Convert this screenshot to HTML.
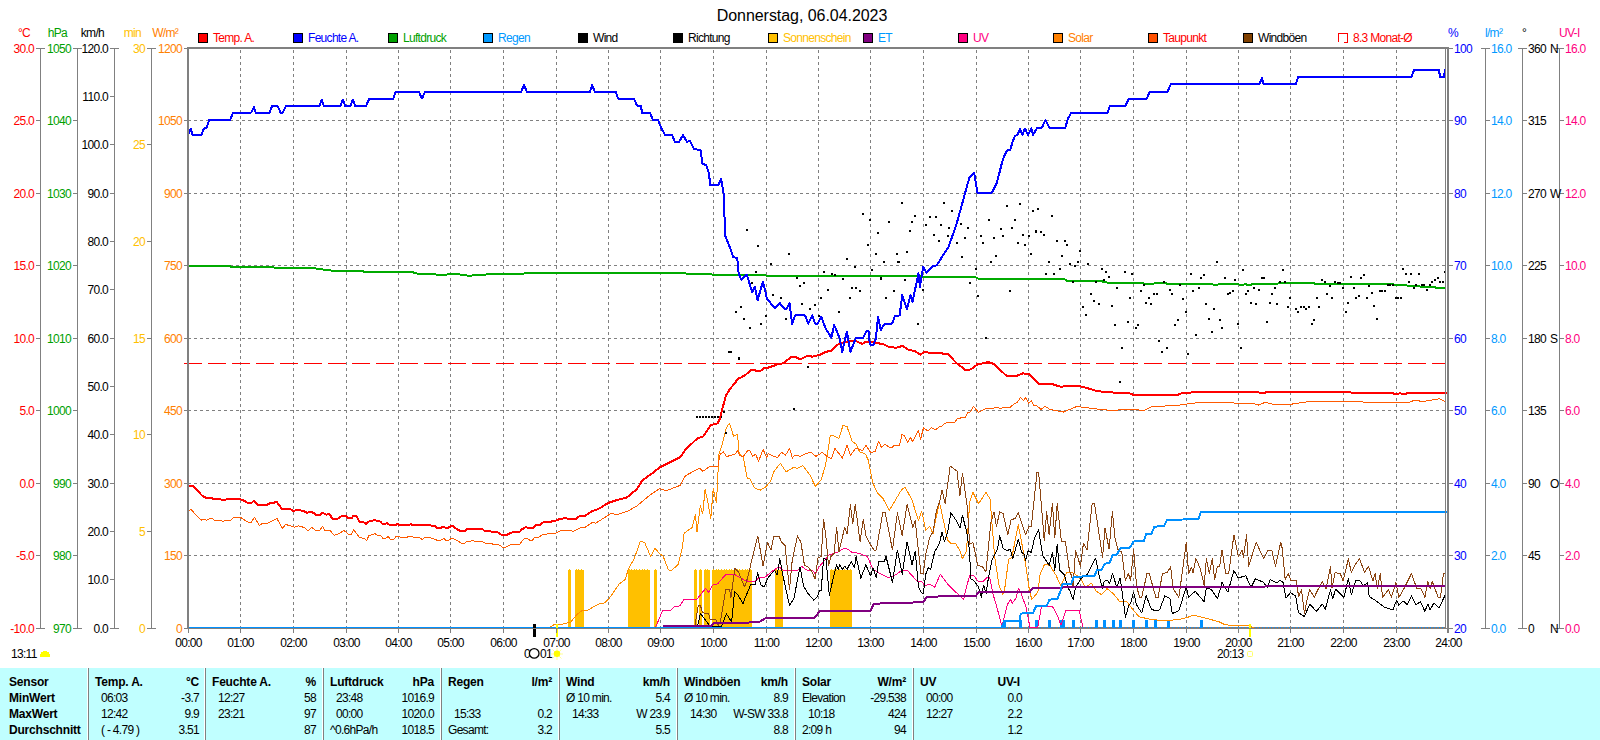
<!DOCTYPE html>
<html><head><meta charset="utf-8"><title>Wetter 06.04.2023</title>
<style>html,body{margin:0;padding:0;background:#fff;width:1600px;height:740px;overflow:hidden;position:relative}
svg text{font-family:"Liberation Sans",sans-serif;letter-spacing:-0.7px} svg text.b{letter-spacing:-0.2px} svg text.t{letter-spacing:-0.05px}</style></head>
<body><svg width="1600" height="740" viewBox="0 0 1600 740" style="position:absolute;left:0;top:0" font-family='"Liberation Sans", sans-serif'><rect width="1600" height="740" fill="#fff"/><g stroke="#808080" stroke-width="1" stroke-dasharray="3,3" shape-rendering="crispEdges"><line x1="188" y1="120.5" x2="1445" y2="120.5" /><line x1="188" y1="193.5" x2="1445" y2="193.5" /><line x1="188" y1="265.5" x2="1445" y2="265.5" /><line x1="188" y1="338.5" x2="1445" y2="338.5" /><line x1="188" y1="410.5" x2="1445" y2="410.5" /><line x1="188" y1="483.5" x2="1445" y2="483.5" /><line x1="188" y1="555.5" x2="1445" y2="555.5" /><line x1="240.5" y1="50" x2="240.5" y2="632" /><line x1="293.5" y1="50" x2="293.5" y2="632" /><line x1="346.5" y1="50" x2="346.5" y2="632" /><line x1="398.5" y1="50" x2="398.5" y2="632" /><line x1="450.5" y1="50" x2="450.5" y2="632" /><line x1="503.5" y1="50" x2="503.5" y2="632" /><line x1="556.5" y1="50" x2="556.5" y2="632" /><line x1="608.5" y1="50" x2="608.5" y2="632" /><line x1="660.5" y1="50" x2="660.5" y2="632" /><line x1="713.5" y1="50" x2="713.5" y2="632" /><line x1="766.5" y1="50" x2="766.5" y2="632" /><line x1="818.5" y1="50" x2="818.5" y2="632" /><line x1="870.5" y1="50" x2="870.5" y2="632" /><line x1="923.5" y1="50" x2="923.5" y2="632" /><line x1="976.5" y1="50" x2="976.5" y2="632" /><line x1="1028.5" y1="50" x2="1028.5" y2="632" /><line x1="1080.5" y1="50" x2="1080.5" y2="632" /><line x1="1133.5" y1="50" x2="1133.5" y2="632" /><line x1="1186.5" y1="50" x2="1186.5" y2="632" /><line x1="1238.5" y1="50" x2="1238.5" y2="632" /><line x1="1290.5" y1="50" x2="1290.5" y2="632" /><line x1="1343.5" y1="50" x2="1343.5" y2="632" /><line x1="1396.5" y1="50" x2="1396.5" y2="632" /></g><g><g fill="#FFC000" shape-rendering="crispEdges"><rect x="568" y="570" width="3" height="57" /><rect x="575" y="570" width="9" height="57" /><rect x="628" y="570" width="22" height="57" /><rect x="654" y="570" width="3" height="57" /><rect x="694" y="570" width="3" height="57" /><rect x="699" y="570" width="3" height="57" /><rect x="704" y="570" width="6" height="57" /><rect x="712" y="570" width="40" height="57" /><rect x="775" y="570" width="8" height="57" /><rect x="830" y="570" width="22" height="57" /><rect x="569" y="569" width="1" height="1"/><rect x="576" y="569" width="1" height="1"/><rect x="578" y="569" width="1" height="1"/><rect x="581" y="569" width="1" height="1"/><rect x="629" y="569" width="1" height="1"/><rect x="631" y="569" width="1" height="1"/><rect x="634" y="569" width="1" height="1"/><rect x="636" y="569" width="1" height="1"/><rect x="639" y="569" width="1" height="1"/><rect x="642" y="569" width="1" height="1"/><rect x="644" y="569" width="1" height="1"/><rect x="647" y="569" width="1" height="1"/><rect x="655" y="569" width="1" height="1"/><rect x="695" y="569" width="1" height="1"/><rect x="700" y="569" width="1" height="1"/><rect x="705" y="569" width="1" height="1"/><rect x="707" y="569" width="1" height="1"/><rect x="713" y="569" width="1" height="1"/><rect x="716" y="569" width="1" height="1"/><rect x="718" y="569" width="1" height="1"/><rect x="721" y="569" width="1" height="1"/><rect x="724" y="569" width="1" height="1"/><rect x="726" y="569" width="1" height="1"/><rect x="729" y="569" width="1" height="1"/><rect x="731" y="569" width="1" height="1"/><rect x="734" y="569" width="1" height="1"/><rect x="737" y="569" width="1" height="1"/><rect x="739" y="569" width="1" height="1"/><rect x="742" y="569" width="1" height="1"/><rect x="745" y="569" width="1" height="1"/><rect x="747" y="569" width="1" height="1"/><rect x="750" y="569" width="1" height="1"/><rect x="776" y="569" width="1" height="1"/><rect x="778" y="569" width="1" height="1"/><rect x="781" y="569" width="1" height="1"/><rect x="831" y="569" width="1" height="1"/><rect x="834" y="569" width="1" height="1"/><rect x="836" y="569" width="1" height="1"/><rect x="839" y="569" width="1" height="1"/><rect x="842" y="569" width="1" height="1"/><rect x="844" y="569" width="1" height="1"/><rect x="847" y="569" width="1" height="1"/><rect x="850" y="569" width="1" height="1"/></g><line x1="184" y1="363.5" x2="1446" y2="363.5" stroke="#FF0000" stroke-width="1" stroke-dasharray="18,6" shape-rendering="crispEdges"/><rect x="1003" y="627" width="443" height="1" fill="#8A7A70" shape-rendering="crispEdges"/><g fill="#0090FF" shape-rendering="crispEdges"><rect x="1004" y="627" width="1" height="1"/><rect x="1007" y="627" width="1" height="1"/><rect x="1010" y="627" width="1" height="1"/><rect x="1013" y="627" width="1" height="1"/><rect x="1016" y="627" width="1" height="1"/><rect x="1019" y="627" width="1" height="1"/><rect x="1022" y="627" width="1" height="1"/><rect x="1025" y="627" width="1" height="1"/><rect x="1028" y="627" width="1" height="1"/><rect x="1031" y="627" width="1" height="1"/><rect x="1034" y="627" width="1" height="1"/><rect x="1037" y="627" width="1" height="1"/><rect x="1040" y="627" width="1" height="1"/><rect x="1043" y="627" width="1" height="1"/><rect x="1046" y="627" width="1" height="1"/><rect x="1049" y="627" width="1" height="1"/><rect x="1052" y="627" width="1" height="1"/><rect x="1055" y="627" width="1" height="1"/><rect x="1058" y="627" width="1" height="1"/><rect x="1061" y="627" width="1" height="1"/><rect x="1064" y="627" width="1" height="1"/><rect x="1067" y="627" width="1" height="1"/><rect x="1070" y="627" width="1" height="1"/><rect x="1073" y="627" width="1" height="1"/><rect x="1076" y="627" width="1" height="1"/><rect x="1079" y="627" width="1" height="1"/><rect x="1082" y="627" width="1" height="1"/><rect x="1085" y="627" width="1" height="1"/><rect x="1088" y="627" width="1" height="1"/><rect x="1091" y="627" width="1" height="1"/><rect x="1094" y="627" width="1" height="1"/><rect x="1097" y="627" width="1" height="1"/><rect x="1100" y="627" width="1" height="1"/><rect x="1103" y="627" width="1" height="1"/><rect x="1106" y="627" width="1" height="1"/><rect x="1109" y="627" width="1" height="1"/><rect x="1112" y="627" width="1" height="1"/><rect x="1115" y="627" width="1" height="1"/><rect x="1118" y="627" width="1" height="1"/><rect x="1121" y="627" width="1" height="1"/><rect x="1124" y="627" width="1" height="1"/><rect x="1127" y="627" width="1" height="1"/><rect x="1130" y="627" width="1" height="1"/><rect x="1133" y="627" width="1" height="1"/><rect x="1136" y="627" width="1" height="1"/><rect x="1139" y="627" width="1" height="1"/><rect x="1142" y="627" width="1" height="1"/><rect x="1145" y="627" width="1" height="1"/><rect x="1148" y="627" width="1" height="1"/><rect x="1151" y="627" width="1" height="1"/><rect x="1154" y="627" width="1" height="1"/><rect x="1157" y="627" width="1" height="1"/><rect x="1160" y="627" width="1" height="1"/><rect x="1163" y="627" width="1" height="1"/><rect x="1166" y="627" width="1" height="1"/><rect x="1169" y="627" width="1" height="1"/><rect x="1172" y="627" width="1" height="1"/><rect x="1175" y="627" width="1" height="1"/><rect x="1178" y="627" width="1" height="1"/><rect x="1181" y="627" width="1" height="1"/><rect x="1184" y="627" width="1" height="1"/><rect x="1187" y="627" width="1" height="1"/><rect x="1190" y="627" width="1" height="1"/><rect x="1193" y="627" width="1" height="1"/><rect x="1196" y="627" width="1" height="1"/><rect x="1199" y="627" width="1" height="1"/><rect x="1202" y="627" width="1" height="1"/><rect x="1205" y="627" width="1" height="1"/><rect x="1208" y="627" width="1" height="1"/><rect x="1211" y="627" width="1" height="1"/><rect x="1214" y="627" width="1" height="1"/><rect x="1217" y="627" width="1" height="1"/><rect x="1220" y="627" width="1" height="1"/><rect x="1223" y="627" width="1" height="1"/><rect x="1226" y="627" width="1" height="1"/><rect x="1229" y="627" width="1" height="1"/><rect x="1232" y="627" width="1" height="1"/><rect x="1235" y="627" width="1" height="1"/><rect x="1238" y="627" width="1" height="1"/><rect x="1241" y="627" width="1" height="1"/><rect x="1244" y="627" width="1" height="1"/><rect x="1247" y="627" width="1" height="1"/><rect x="1250" y="627" width="1" height="1"/><rect x="1253" y="627" width="1" height="1"/><rect x="1256" y="627" width="1" height="1"/><rect x="1259" y="627" width="1" height="1"/><rect x="1262" y="627" width="1" height="1"/><rect x="1265" y="627" width="1" height="1"/><rect x="1268" y="627" width="1" height="1"/><rect x="1271" y="627" width="1" height="1"/><rect x="1274" y="627" width="1" height="1"/><rect x="1277" y="627" width="1" height="1"/><rect x="1280" y="627" width="1" height="1"/><rect x="1283" y="627" width="1" height="1"/><rect x="1286" y="627" width="1" height="1"/><rect x="1289" y="627" width="1" height="1"/><rect x="1292" y="627" width="1" height="1"/><rect x="1295" y="627" width="1" height="1"/><rect x="1298" y="627" width="1" height="1"/><rect x="1301" y="627" width="1" height="1"/><rect x="1304" y="627" width="1" height="1"/><rect x="1307" y="627" width="1" height="1"/><rect x="1310" y="627" width="1" height="1"/><rect x="1313" y="627" width="1" height="1"/><rect x="1316" y="627" width="1" height="1"/><rect x="1319" y="627" width="1" height="1"/><rect x="1322" y="627" width="1" height="1"/><rect x="1325" y="627" width="1" height="1"/><rect x="1328" y="627" width="1" height="1"/><rect x="1331" y="627" width="1" height="1"/><rect x="1334" y="627" width="1" height="1"/><rect x="1337" y="627" width="1" height="1"/><rect x="1340" y="627" width="1" height="1"/><rect x="1343" y="627" width="1" height="1"/><rect x="1346" y="627" width="1" height="1"/><rect x="1349" y="627" width="1" height="1"/><rect x="1352" y="627" width="1" height="1"/><rect x="1355" y="627" width="1" height="1"/><rect x="1358" y="627" width="1" height="1"/><rect x="1361" y="627" width="1" height="1"/><rect x="1364" y="627" width="1" height="1"/><rect x="1367" y="627" width="1" height="1"/><rect x="1370" y="627" width="1" height="1"/><rect x="1373" y="627" width="1" height="1"/><rect x="1376" y="627" width="1" height="1"/><rect x="1379" y="627" width="1" height="1"/><rect x="1382" y="627" width="1" height="1"/><rect x="1385" y="627" width="1" height="1"/><rect x="1388" y="627" width="1" height="1"/><rect x="1391" y="627" width="1" height="1"/><rect x="1394" y="627" width="1" height="1"/><rect x="1397" y="627" width="1" height="1"/><rect x="1400" y="627" width="1" height="1"/><rect x="1403" y="627" width="1" height="1"/><rect x="1406" y="627" width="1" height="1"/><rect x="1409" y="627" width="1" height="1"/><rect x="1412" y="627" width="1" height="1"/><rect x="1415" y="627" width="1" height="1"/><rect x="1418" y="627" width="1" height="1"/><rect x="1421" y="627" width="1" height="1"/><rect x="1424" y="627" width="1" height="1"/><rect x="1427" y="627" width="1" height="1"/><rect x="1430" y="627" width="1" height="1"/><rect x="1433" y="627" width="1" height="1"/><rect x="1436" y="627" width="1" height="1"/><rect x="1439" y="627" width="1" height="1"/><rect x="1442" y="627" width="1" height="1"/><rect x="1445" y="627" width="1" height="1"/></g><g fill="#0090FF" shape-rendering="crispEdges"><rect x="1003" y="620" width="3" height="8" /><rect x="1019" y="620" width="3" height="8" /><rect x="1035" y="620" width="3" height="8" /><rect x="1048" y="620" width="3" height="8" /><rect x="1060" y="620" width="3" height="8" /><rect x="1062" y="620" width="3" height="8" /><rect x="1072" y="620" width="3" height="8" /><rect x="1095" y="620" width="3" height="8" /><rect x="1103" y="620" width="3" height="8" /><rect x="1112" y="620" width="3" height="8" /><rect x="1119" y="620" width="3" height="8" /><rect x="1132" y="620" width="3" height="8" /><rect x="1145" y="620" width="3" height="8" /><rect x="1154" y="620" width="3" height="8" /><rect x="1167" y="620" width="3" height="8" /><rect x="1200" y="620" width="3" height="8" /></g><path d="M655.8,626.8 L662.5,610.7 L671.4,610.0 L674.4,606.2 L679.6,606.0 L684.0,599.6 L696.7,599.6 L705.6,588.4 L708.6,592.1 L713.0,584.7 L717.5,584.0 L725.7,574.6 L735.0,574.7 L745.5,580.8 L754.3,581.7 L759.6,577.3 L764.9,577.3 L771.0,572.1 L778.9,566.8 L783.3,570.3 L797.4,570.3 L801.8,566.4 L807.1,570.3 L813.1,571.0 L815.5,574.3 L819.6,566.2 L829.3,554.8 L839.0,551.6 L843.9,548.3 L848.0,549.2 L852.0,552.4 L858.5,553.2 L867.4,556.5 L873.1,569.4 L881.2,574.3 L887.7,577.5 L894.1,575.9 L902.2,570.2 L907.9,571.0 L916.8,580.8 L921.7,581.6 L924.9,585.6 L929.8,584.0 L934.7,587.2 L940.3,574.3 L947.6,584.0 L955.7,592.1 L960.0,595.9 L963.6,599.6 L966.1,588.6 L969.7,575.3 L973.4,575.3 L978.2,581.3 L983.1,581.3 L987.4,577.1 L989.8,577.7 L992.8,593.5 L996.5,605.7 L1001.9,626.3 L1007.4,604.4 L1010.5,599.6 L1012.3,603.2 L1015.9,598.4 L1018.4,588.6 L1020.8,592.3 L1026.3,608.1 L1029.9,627.3 L1037.8,627.3 L1041.5,606.3 L1052.4,606.3 L1057.3,615.4 L1060.9,625.1 L1065.8,610.5 L1079.1,610.5 L1082.8,626.3" fill="none" stroke="#FF0080" stroke-width="1" stroke-linejoin="round" stroke-linecap="square" shape-rendering="crispEdges" /><path d="M550.2,626.8 L553.9,624.8 L562.8,624.1 L571.0,621.9 L576.2,615.2 L582.2,610.4 L588.1,610.0 L595.6,605.5 L600.8,603.3 L604.5,603.0 L609.0,598.8 L619.3,583.9 L625.3,579.5 L628.3,569.1 L634.2,558.7 L640.2,541.6 L644.6,542.3 L650.6,556.4 L655.0,548.3 L659.5,553.5 L663.2,556.4 L668.4,569.8 L671.4,570.6 L678.1,564.6 L682.5,546.8 L684.1,533.3 L687.3,530.9 L692.2,527.6 L695.4,514.7 L697.0,531.7 L700.3,505.8 L702.7,513.9 L705.1,489.6 L707.6,500.9 L710.8,518.7 L713.2,488.7 L714.8,496.0 L716.5,502.5 L718.9,454.7 L722.1,445.0 L726.2,428.0 L729.4,423.1 L733.5,436.1 L737.5,434.4 L739.2,453.9 L743.2,457.1 L747.3,478.2 L749.9,478.7 L754.5,487.9 L760.3,490.2 L766.0,486.8 L770.6,481.0 L774.1,471.3 L780.4,463.2 L786.1,471.9 L793.6,467.3 L797.6,468.4 L802.8,465.5 L809.7,474.7 L815.4,486.2 L821.1,479.9 L825.7,464.4 L830.3,435.7 L833.8,435.7 L839.0,438.5 L843.0,425.3 L847.0,426.5 L852.2,441.4 L856.2,444.3 L859.6,451.8 L865.4,454.1 L868.2,459.8 L872.8,482.8 L877.4,493.1 L883.2,498.9 L889.3,510.3 L901.4,490.0 L905.0,487.0 L912.0,500.0 L918.5,520.8 L921.7,511.1 L925.7,530.5 L929.8,526.5 L933.0,533.8 L934.7,524.0 L939.5,502.2 L947.6,540.2 L950.9,543.5 L955.7,543.5 L960.0,550.8 L962.4,558.9 L966.5,550.8 L969.7,502.1 L973.0,492.4 L978.6,503.8 L985.9,492.4 L990.0,498.9 L994.7,557.0 L998.9,585.0 L1002.6,594.1 L1004.4,591.1 L1008.6,559.5 L1011.9,557.2 L1018.3,524.8 L1023.2,550.8 L1025.7,564.3 L1028.7,586.2 L1031.7,599.6 L1037.8,592.3 L1040.2,574.0 L1044.5,564.3 L1050.0,565.5 L1056.0,575.3 L1060.9,586.2 L1066.4,572.8 L1071.9,572.2 L1076.7,575.3 L1081.6,580.1 L1085.2,587.4 L1091.3,583.2 L1096.2,591.1 L1101.6,594.7 L1107.1,588.6 L1113.2,593.5 L1120.0,602.0 L1126.9,601.7 L1131.3,607.7 L1138.8,616.6 L1147.7,618.8 L1159.6,620.3 L1177.4,619.9 L1187.8,617.3 L1193.0,615.1 L1205.6,618.1 L1219.0,621.8 L1225.0,624.8 L1233.9,625.5 L1248.7,625.5 L1253.2,627.7" fill="none" stroke="#FF8C00" stroke-width="1" stroke-linejoin="round" stroke-linecap="square" shape-rendering="crispEdges" /><path d="M188.4,511.1 L191.1,509.3 L195.1,514.1 L201.2,520.1 L203.9,519.2 L206.6,520.1 L210.0,518.4 L212.0,518.4 L214.7,520.4 L220.8,520.4 L222.8,521.5 L225.5,520.4 L230.3,520.4 L233.6,517.4 L240.4,517.4 L248.5,522.4 L251.2,522.2 L254.6,517.4 L259.3,525.5 L262.7,523.2 L267.4,523.2 L276.9,518.4 L282.3,528.2 L285.7,524.5 L290.4,525.8 L294.5,527.2 L298.5,525.8 L304.6,527.6 L307.3,530.3 L309.3,530.0 L311.4,527.2 L316.1,530.9 L319.5,530.9 L322.6,526.2 L324.9,530.3 L330.3,530.7 L334.3,535.4 L339.1,533.6 L343.8,530.3 L348.5,534.3 L351.2,534.3 L353.6,529.6 L359.3,537.3 L364.1,538.4 L366.8,540.4 L368.8,535.7 L374.9,533.6 L377.6,535.3 L381.0,535.7 L383.0,538.4 L385.0,538.4 L388.4,536.5 L390.4,539.5 L393.8,539.5 L395.8,536.5 L399.2,536.8 L400.5,537.4 L406.6,537.4 L408.6,536.5 L412.0,536.5 L414.1,537.4 L419.5,537.7 L422.2,539.5 L424.9,537.4 L431.6,538.1 L433.6,538.8 L437.7,540.5 L440.4,540.5 L443.8,538.4 L445.8,540.4 L448.5,540.4 L451.2,538.4 L453.2,538.4 L462.0,543.5 L464.1,543.5 L466.8,541.5 L472.8,540.8 L476.9,541.5 L482.3,541.8 L485.7,543.2 L491.8,543.5 L493.1,544.5 L498.5,544.5 L502.6,547.2 L505.3,547.2 L511.4,544.5 L519.5,544.5 L524.2,538.5 L527.6,538.5 L530.3,540.5 L532.3,540.5 L534.3,537.4 L538.4,537.2 L543.1,534.5 L548.5,533.8 L556.0,533.1 L558.6,531.4 L563.4,530.4 L570.8,530.7 L573.5,531.4 L579.6,528.0 L585.0,527.3 L592.6,522.2 L595.8,523.2 L611.0,513.5 L617.4,514.6 L627.2,511.4 L636.9,505.9 L649.9,495.1 L659.6,488.6 L666.1,490.8 L680.1,485.4 L685.5,475.7 L699.6,468.1 L702.8,471.4 L710.4,466.0 L718.0,466.0 L720.1,454.1 L723.4,451.9 L726.6,456.6 L735.0,454.1 L737.9,450.6 L739.6,455.2 L743.0,456.9 L747.6,450.6 L749.9,450.6 L752.8,456.4 L755.7,454.1 L758.5,461.5 L763.1,449.5 L766.6,457.5 L768.3,453.5 L772.3,455.8 L777.5,457.5 L781.5,452.3 L785.5,455.2 L789.6,448.3 L792.4,458.1 L794.7,455.2 L800.5,456.4 L805.6,453.5 L810.8,452.3 L816.0,456.4 L822.3,452.3 L826.9,456.4 L831.5,458.6 L834.9,448.3 L842.4,458.1 L847.0,445.4 L850.4,455.2 L855.6,448.3 L862.5,450.6 L865.9,445.4 L870.5,452.3 L875.1,451.8 L878.6,441.4 L881.4,447.2 L884.9,444.3 L890.0,447.5 L892.0,447.5 L894.5,445.3 L899.5,445.3 L902.0,434.5 L904.5,435.5 L907.5,442.5 L910.5,437.5 L912.5,441.5 L918.5,430.5 L920.5,439.5 L923.5,427.5 L927.0,430.5 L928.5,430.5 L931.5,427.5 L934.5,429.5 L936.0,429.5 L939.5,426.5 L941.5,426.5 L944.5,423.3 L948.0,422.5 L954.5,422.5 L957.5,418.5 L965.5,417.2 L968.0,412.5 L970.5,411.8 L973.5,406.3 L978.5,412.5 L981.5,410.5 L986.5,408.5 L993.0,408.5 L995.0,407.5 L997.5,407.5 L1000.0,408.5 L1004.0,407.5 L1010.0,407.5 L1013.5,404.3 L1017.5,402.0 L1020.5,397.5 L1023.5,400.5 L1025.5,397.5 L1028.5,403.0 L1031.5,400.5 L1033.5,405.5 L1036.5,405.5 L1041.0,409.5 L1045.0,406.3 L1050.0,409.5 L1063.4,412.1 L1076.9,406.4 L1093.8,408.7 L1110.7,410.4 L1130.0,409.4 L1144.1,410.4 L1151.1,406.9 L1179.2,405.1 L1200.3,402.3 L1253.0,403.4 L1258.2,405.1 L1265.3,402.3 L1274.1,404.4 L1289.9,404.4 L1313.0,401.0 L1341.0,401.0 L1369.0,402.3 L1409.7,402.3 L1415.0,399.9 L1422.0,401.6 L1439.6,398.8 L1444.9,401.6" fill="none" stroke="#FF5A00" stroke-width="1" stroke-linejoin="round" stroke-linecap="square" shape-rendering="crispEdges" /><path d="M695.2,624.1 L698.2,605.5 L700.4,605.5 L702.6,612.9 L708.6,613.4 L710.1,619.6 L716.0,619.9 L718.2,625.9 L720.5,621.1 L725.7,589.9 L729.4,589.1 L730.9,597.3 L735.0,568.5 L738.5,572.1 L742.0,580.8 L744.7,587.0 L748.2,575.6 L752.6,556.2 L757.8,536.0 L763.1,565.9 L767.5,542.2 L771.0,550.1 L773.7,536.0 L778.9,536.0 L781.6,542.2 L785.1,545.7 L789.5,589.6 L792.1,561.5 L797.4,536.0 L800.9,542.2 L804.4,565.0 L807.9,566.8 L812.3,572.1 L815.0,579.1 L818.0,558.0 L821.2,556.5 L823.6,519.2 L826.1,538.6 L828.5,565.4 L830.9,556.5 L834.2,553.2 L836.6,527.3 L839.0,551.6 L844.7,527.3 L847.1,533.8 L850.4,504.6 L852.8,524.0 L855.2,504.6 L860.1,541.9 L863.3,519.2 L865.8,535.4 L869.8,543.5 L873.9,550.0 L876.3,550.0 L882.8,512.7 L885.2,512.7 L892.5,550.0 L897.4,512.7 L902.2,535.4 L907.1,504.6 L912.8,527.3 L915.2,520.8 L920.9,573.5 L923.3,573.5 L925.7,554.8 L929.8,537.0 L933.0,532.1 L936.3,511.1 L939.5,502.2 L942.0,490.0 L945.1,503.3 L950.2,466.1 L957.0,471.2 L960.0,495.7 L962.4,473.0 L967.3,507.0 L969.7,544.3 L973.0,542.7 L977.8,565.3 L982.7,567.0 L985.9,571.8 L990.8,523.2 L994.0,511.9 L996.5,526.5 L999.7,511.9 L1003.0,513.5 L1007.8,534.6 L1011.1,520.0 L1015.1,518.3 L1018.3,512.7 L1025.6,534.6 L1028.9,526.5 L1031.3,526.5 L1037.0,472.2 L1038.6,472.2 L1044.3,541.0 L1046.7,511.9 L1049.1,534.6 L1052.4,503.8 L1054.8,537.8 L1057.2,503.8 L1061.3,541.0 L1065.3,541.0 L1069.4,570.2 L1071.8,576.7 L1073.1,586.2 L1075.5,550.9 L1078.5,559.5 L1080.4,566.7 L1083.4,543.6 L1087.1,549.7 L1092.1,503.8 L1094.5,503.8 L1102.6,557.2 L1105.0,528.1 L1109.1,549.1 L1112.4,511.9 L1115.0,537.8 L1118.0,549.7 L1121.7,551.9 L1125.4,580.9 L1128.4,573.5 L1130.6,580.9 L1133.6,549.0 L1136.5,585.4 L1139.5,597.3 L1141.7,597.3 L1147.0,573.5 L1149.2,573.5 L1155.9,597.3 L1158.1,597.3 L1162.5,573.5 L1167.0,572.7 L1170.7,566.8 L1173.0,588.4 L1178.9,597.3 L1186.3,542.3 L1188.6,573.5 L1191.5,567.5 L1193.0,572.7 L1196.0,558.6 L1200.4,569.0 L1204.2,585.4 L1206.4,558.6 L1209.4,573.5 L1212.3,558.6 L1214.6,579.4 L1217.5,566.1 L1219.8,566.1 L1222.0,549.7 L1225.7,573.5 L1228.7,573.5 L1233.9,534.9 L1238.3,556.4 L1242.0,550.5 L1243.5,557.1 L1246.5,534.9 L1248.7,566.1 L1256.2,542.3 L1263.6,558.6 L1268.0,550.5 L1271.8,550.5 L1275.5,566.1 L1280.7,542.3 L1282.2,548.2 L1285.2,579.4 L1288.2,573.5 L1291.1,580.9 L1296.3,580.9 L1298.6,596.5 L1301.5,589.8 L1304.5,613.6 L1307.5,597.3 L1309.7,589.8 L1314.2,597.3 L1317.9,589.8 L1322.3,581.7 L1326.1,589.1 L1330.5,566.1 L1332.0,588.4 L1335.0,572.7 L1340.2,573.5 L1343.2,580.9 L1348.4,558.6 L1351.3,572.7 L1354.3,566.1 L1359.5,558.6 L1364.7,572.7 L1368.4,566.1 L1372.9,580.9 L1375.1,573.5 L1377.3,588.4 L1380.3,573.5 L1382.5,597.3 L1388.5,589.8 L1391.4,597.3 L1395.9,582.4 L1398.9,597.3 L1404.1,588.4 L1411.5,573.5 L1416.7,588.4 L1421.2,589.1 L1424.9,597.3 L1427.8,581.7 L1430.1,588.4 L1432.3,581.7 L1438.2,597.3 L1440.5,597.3 L1443.4,573.5 L1444.9,573.5" fill="none" stroke="#8B4513" stroke-width="1" stroke-linejoin="round" stroke-linecap="square" shape-rendering="crispEdges" /><path d="M697.4,626.8 L700.4,613.7 L704.1,618.1 L710.1,626.3 L721.2,626.8 L726.4,613.7 L731.6,621.9 L734.6,591.4 L738.5,595.8 L742.9,603.7 L746.4,594.9 L750.8,584.4 L755.2,584.4 L757.8,572.9 L760.5,584.4 L764.0,587.0 L768.4,577.3 L774.5,570.3 L777.2,574.7 L779.8,558.9 L783.3,577.3 L789.5,605.4 L793.9,598.4 L800.0,566.8 L803.5,586.1 L808.2,593.7 L813.9,600.2 L817.2,597.0 L819.6,590.5 L821.2,590.5 L823.6,558.1 L826.1,559.7 L829.3,595.3 L833.4,577.5 L836.6,564.6 L838.2,569.4 L839.8,564.6 L842.3,569.4 L844.7,566.2 L847.1,569.4 L851.2,561.3 L854.4,567.8 L856.1,556.5 L860.9,578.3 L865.8,564.6 L870.6,575.9 L873.1,567.8 L876.3,577.5 L878.7,561.3 L884.4,561.3 L886.0,556.5 L892.5,582.4 L897.4,550.0 L902.2,574.3 L907.1,541.9 L912.0,564.6 L915.2,551.6 L918.5,587.2 L920.9,592.1 L923.3,593.7 L925.7,574.3 L928.2,567.8 L930.6,569.4 L934.7,551.6 L939.5,543.5 L942.0,532.1 L944.4,541.9 L947.6,532.1 L950.9,512.7 L957.4,522.4 L960.0,528.1 L962.4,515.1 L966.5,531.3 L969.7,550.8 L970.5,578.9 L973.4,580.1 L978.2,586.2 L981.3,597.1 L983.7,585.0 L986.1,593.5 L988.6,576.5 L992.2,559.5 L995.3,553.4 L997.7,548.5 L999.7,535.4 L1003.0,548.3 L1007.0,550.8 L1010.2,549.1 L1012.7,558.9 L1018.3,539.4 L1021.6,552.4 L1024.0,554.0 L1025.6,560.5 L1028.1,550.8 L1031.3,552.4 L1034.6,537.8 L1038.6,529.7 L1042.7,555.6 L1049.1,565.3 L1052.4,552.4 L1054.8,570.2 L1057.2,544.3 L1059.7,570.2 L1064.6,575.3 L1067.6,587.4 L1070.0,591.1 L1073.1,599.6 L1075.5,587.4 L1081.6,577.7 L1087.7,574.0 L1091.9,565.5 L1095.6,558.2 L1098.6,572.8 L1102.2,588.6 L1104.1,581.3 L1107.7,580.1 L1109.5,583.8 L1112.6,573.4 L1116.8,587.4 L1120.2,578.0 L1121.7,588.4 L1125.4,617.3 L1129.1,604.7 L1130.6,603.2 L1133.6,592.1 L1136.5,604.7 L1141.7,612.9 L1146.2,595.8 L1151.4,609.2 L1155.1,610.6 L1159.6,609.9 L1164.8,595.8 L1170.0,598.8 L1172.2,613.6 L1178.9,610.6 L1186.3,586.9 L1188.6,597.3 L1195.2,591.3 L1204.2,601.7 L1206.4,587.6 L1211.6,589.8 L1217.5,598.8 L1222.0,582.4 L1227.9,592.1 L1233.9,570.5 L1238.3,578.0 L1245.8,575.7 L1251.0,587.6 L1255.4,578.7 L1263.6,582.4 L1267.3,587.6 L1270.3,579.4 L1277.0,583.2 L1280.0,580.2 L1283.0,582.4 L1285.9,598.0 L1290.4,592.8 L1295.6,595.8 L1298.6,612.9 L1304.5,616.6 L1309.7,604.0 L1316.4,611.4 L1322.3,604.0 L1325.3,609.2 L1330.5,589.8 L1332.7,598.8 L1335.7,589.1 L1339.4,592.8 L1343.9,597.3 L1348.4,578.7 L1351.3,595.0 L1355.8,580.2 L1360.2,580.9 L1363.2,586.1 L1367.7,582.4 L1369.2,596.5 L1375.1,600.2 L1384.0,606.9 L1392.9,609.9 L1396.6,600.2 L1398.9,605.4 L1403.3,601.0 L1407.0,604.7 L1411.5,595.8 L1416.0,604.7 L1420.4,601.7 L1424.9,611.4 L1427.8,604.0 L1430.1,609.9 L1433.8,603.2 L1439.0,607.7 L1444.9,595.8" fill="none" stroke="#000000" stroke-width="1" stroke-linejoin="round" stroke-linecap="square" shape-rendering="crispEdges" /><path d="M664.0,625.9 L711.5,625.9 L714.5,622.9 L758.7,622.4 L766.4,617.7 L814.7,617.7 L819.3,611.5 L870.6,610.9 L873.7,603.7 L923.5,602.2 L926.6,596.6 L975.5,596.2 L978.9,592.2 L1029.6,592.2 L1033.0,587.8 L1135.0,586.8 L1445.0,586.1" fill="none" stroke="#800080" stroke-width="2" stroke-linejoin="round" stroke-linecap="square" shape-rendering="crispEdges" /><path d="M188.0,628.0 L1001.3,628.0 L1004.4,620.9 L1019.6,620.9 L1020.8,613.6 L1033.0,612.9 L1036.0,606.3 L1046.9,605.7 L1049.4,599.6 L1057.3,599.0 L1060.9,589.8 L1062.1,584.4 L1071.2,584.0 L1073.7,577.1 L1086.4,576.2 L1094.3,576.2 L1096.8,570.4 L1101.6,569.8 L1104.7,563.7 L1109.5,563.1 L1112.6,555.2 L1116.8,554.6 L1120.9,547.5 L1129.9,547.5 L1133.6,541.5 L1144.0,540.8 L1146.2,534.1 L1151.4,533.7 L1154.4,526.7 L1164.0,525.9 L1167.0,520.0 L1198.5,519.0 L1200.8,512.0 L1446.0,512.0" fill="none" stroke="#0090FF" stroke-width="2" stroke-linejoin="round" stroke-linecap="square" shape-rendering="crispEdges" /><path d="M188.0,266.1 L230.0,266.1 L231.5,267.0 L272.0,267.0 L275.0,267.9 L314.0,267.9 L317.0,268.8 L332.0,270.6 L359.0,270.6 L368.0,272.4 L413.0,272.4 L417.5,273.6 L434.0,273.6 L437.0,274.8 L446.0,274.8 L449.0,273.6 L464.0,274.8 L468.5,276.0 L473.0,275.4 L491.0,274.2 L524.0,273.6 L527.0,272.7 L665.0,272.7 L725.0,275.0 L781.6,275.7 L880.0,276.0 L920.0,276.0 L925.0,277.0 L975.0,277.0 L978.0,278.6 L1063.3,278.7 L1067.7,281.1 L1100.4,281.1 L1110.8,283.2 L1142.1,283.2 L1148.0,284.1 L1162.9,282.6 L1168.8,284.1 L1211.9,283.8 L1213.6,284.9 L1217.6,284.9 L1219.2,283.8 L1237.9,283.8 L1239.6,284.9 L1243.6,284.9 L1245.3,283.8 L1246.9,284.9 L1250.9,284.9 L1252.6,283.8 L1277.7,283.8 L1279.4,282.8 L1313.5,282.8 L1315.1,283.8 L1393.1,283.8 L1394.8,284.9 L1406.1,284.9 L1407.7,286.1 L1434.6,287.0 L1436.2,287.9 L1445.1,287.9" fill="none" stroke="#00AA00" stroke-width="2" stroke-linejoin="round" stroke-linecap="square" shape-rendering="crispEdges" /><g fill="#000" shape-rendering="crispEdges"><rect x="746" y="229" width="2" height="2"/><rect x="757" y="245" width="2" height="2"/><rect x="788" y="253" width="2" height="2"/><rect x="770" y="263" width="2" height="2"/><rect x="755" y="271" width="2" height="2"/><rect x="796" y="277" width="2" height="2"/><rect x="803" y="282" width="2" height="2"/><rect x="799" y="285" width="2" height="2"/><rect x="823" y="271" width="2" height="2"/><rect x="831" y="273" width="2" height="2"/><rect x="834" y="274" width="2" height="2"/><rect x="842" y="278" width="2" height="2"/><rect x="846" y="258" width="2" height="2"/><rect x="854" y="266" width="2" height="2"/><rect x="862" y="213" width="2" height="2"/><rect x="869" y="219" width="2" height="2"/><rect x="877" y="232" width="2" height="2"/><rect x="867" y="244" width="2" height="2"/><rect x="875" y="253" width="2" height="2"/><rect x="883" y="261" width="2" height="2"/><rect x="888" y="221" width="2" height="2"/><rect x="896" y="253" width="2" height="2"/><rect x="898" y="261" width="2" height="2"/><rect x="871" y="269" width="2" height="2"/><rect x="880" y="277" width="2" height="2"/><rect x="851" y="287" width="2" height="2"/><rect x="855" y="287" width="2" height="2"/><rect x="859" y="290" width="2" height="2"/><rect x="849" y="297" width="2" height="2"/><rect x="838" y="311" width="2" height="2"/><rect x="827" y="289" width="2" height="2"/><rect x="820" y="297" width="2" height="2"/><rect x="814" y="304" width="2" height="2"/><rect x="809" y="308" width="2" height="2"/><rect x="801" y="303" width="2" height="2"/><rect x="818" y="315" width="2" height="2"/><rect x="780" y="297" width="2" height="2"/><rect x="785" y="318" width="2" height="2"/><rect x="772" y="294" width="2" height="2"/><rect x="765" y="315" width="2" height="2"/><rect x="760" y="323" width="2" height="2"/><rect x="751" y="282" width="2" height="2"/><rect x="740" y="306" width="2" height="2"/><rect x="743" y="318" width="2" height="2"/><rect x="735" y="311" width="2" height="2"/><rect x="749" y="327" width="2" height="2"/><rect x="729" y="351" width="2" height="2"/><rect x="738" y="357" width="2" height="2"/><rect x="728" y="351" width="2" height="2"/><rect x="730" y="351" width="2" height="2"/><rect x="738" y="358" width="2" height="2"/><rect x="807" y="366" width="2" height="2"/><rect x="793" y="408" width="2" height="2"/><rect x="723" y="411" width="2" height="2"/><rect x="725" y="432" width="2" height="2"/><rect x="901" y="202" width="2" height="2"/><rect x="888" y="221" width="2" height="2"/><rect x="911" y="221" width="2" height="2"/><rect x="914" y="215" width="2" height="2"/><rect x="909" y="230" width="2" height="2"/><rect x="896" y="253" width="2" height="2"/><rect x="906" y="251" width="2" height="2"/><rect x="883" y="261" width="2" height="2"/><rect x="897" y="261" width="2" height="2"/><rect x="880" y="278" width="2" height="2"/><rect x="904" y="279" width="2" height="2"/><rect x="893" y="290" width="2" height="2"/><rect x="885" y="297" width="2" height="2"/><rect x="917" y="323" width="2" height="2"/><rect x="922" y="289" width="2" height="2"/><rect x="921" y="271" width="2" height="2"/><rect x="929" y="216" width="2" height="2"/><rect x="935" y="216" width="2" height="2"/><rect x="925" y="224" width="2" height="2"/><rect x="940" y="224" width="2" height="2"/><rect x="943" y="202" width="2" height="2"/><rect x="951" y="210" width="2" height="2"/><rect x="948" y="227" width="2" height="2"/><rect x="933" y="234" width="2" height="2"/><rect x="938" y="240" width="2" height="2"/><rect x="947" y="235" width="2" height="2"/><rect x="960" y="223" width="2" height="2"/><rect x="956" y="242" width="2" height="2"/><rect x="964" y="237" width="2" height="2"/><rect x="967" y="227" width="2" height="2"/><rect x="961" y="256" width="2" height="2"/><rect x="975" y="268" width="2" height="2"/><rect x="969" y="282" width="2" height="2"/><rect x="977" y="295" width="2" height="2"/><rect x="980" y="235" width="2" height="2"/><rect x="982" y="242" width="2" height="2"/><rect x="988" y="219" width="2" height="2"/><rect x="993" y="237" width="2" height="2"/><rect x="995" y="255" width="2" height="2"/><rect x="990" y="261" width="2" height="2"/><rect x="985" y="337" width="2" height="2"/><rect x="1000" y="228" width="2" height="2"/><rect x="1002" y="235" width="2" height="2"/><rect x="1006" y="205" width="2" height="2"/><rect x="1011" y="227" width="2" height="2"/><rect x="1014" y="219" width="2" height="2"/><rect x="1019" y="203" width="2" height="2"/><rect x="1009" y="290" width="2" height="2"/><rect x="1022" y="234" width="2" height="2"/><rect x="1028" y="235" width="2" height="2"/><rect x="1032" y="210" width="2" height="2"/><rect x="1037" y="208" width="2" height="2"/><rect x="1035" y="230" width="2" height="2"/><rect x="1017" y="242" width="2" height="2"/><rect x="1024" y="244" width="2" height="2"/><rect x="1030" y="253" width="2" height="2"/><rect x="1037" y="208" width="2" height="2"/><rect x="1051" y="215" width="2" height="2"/><rect x="1035" y="231" width="2" height="2"/><rect x="1040" y="231" width="2" height="2"/><rect x="1043" y="234" width="2" height="2"/><rect x="1056" y="240" width="2" height="2"/><rect x="1064" y="240" width="2" height="2"/><rect x="1066" y="244" width="2" height="2"/><rect x="1079" y="250" width="2" height="2"/><rect x="1048" y="261" width="2" height="2"/><rect x="1061" y="255" width="2" height="2"/><rect x="1069" y="263" width="2" height="2"/><rect x="1074" y="265" width="2" height="2"/><rect x="1077" y="261" width="2" height="2"/><rect x="1087" y="263" width="2" height="2"/><rect x="1045" y="273" width="2" height="2"/><rect x="1053" y="273" width="2" height="2"/><rect x="1059" y="268" width="2" height="2"/><rect x="1072" y="281" width="2" height="2"/><rect x="1101" y="268" width="2" height="2"/><rect x="1105" y="271" width="2" height="2"/><rect x="1108" y="276" width="2" height="2"/><rect x="1103" y="279" width="2" height="2"/><rect x="1095" y="281" width="2" height="2"/><rect x="1124" y="271" width="2" height="2"/><rect x="1131" y="273" width="2" height="2"/><rect x="1116" y="287" width="2" height="2"/><rect x="1090" y="293" width="2" height="2"/><rect x="1093" y="300" width="2" height="2"/><rect x="1098" y="303" width="2" height="2"/><rect x="1082" y="306" width="2" height="2"/><rect x="1085" y="314" width="2" height="2"/><rect x="1111" y="305" width="2" height="2"/><rect x="1114" y="324" width="2" height="2"/><rect x="1129" y="297" width="2" height="2"/><rect x="1127" y="321" width="2" height="2"/><rect x="1135" y="327" width="2" height="2"/><rect x="1137" y="324" width="2" height="2"/><rect x="1121" y="347" width="2" height="2"/><rect x="1140" y="290" width="2" height="2"/><rect x="1143" y="284" width="2" height="2"/><rect x="1145" y="302" width="2" height="2"/><rect x="1148" y="297" width="2" height="2"/><rect x="1150" y="303" width="2" height="2"/><rect x="1153" y="293" width="2" height="2"/><rect x="1156" y="293" width="2" height="2"/><rect x="1158" y="340" width="2" height="2"/><rect x="1161" y="351" width="2" height="2"/><rect x="1166" y="347" width="2" height="2"/><rect x="1119" y="381" width="2" height="2"/><rect x="1163" y="281" width="2" height="2"/><rect x="1169" y="289" width="2" height="2"/><rect x="1171" y="293" width="2" height="2"/><rect x="1179" y="284" width="2" height="2"/><rect x="1182" y="298" width="2" height="2"/><rect x="1174" y="324" width="2" height="2"/><rect x="1177" y="319" width="2" height="2"/><rect x="1185" y="311" width="2" height="2"/><rect x="1187" y="353" width="2" height="2"/><rect x="1190" y="273" width="2" height="2"/><rect x="1192" y="290" width="2" height="2"/><rect x="1190" y="273" width="2" height="2"/><rect x="1192" y="290" width="2" height="2"/><rect x="1195" y="334" width="2" height="2"/><rect x="1198" y="287" width="2" height="2"/><rect x="1200" y="277" width="2" height="2"/><rect x="1203" y="274" width="2" height="2"/><rect x="1205" y="303" width="2" height="2"/><rect x="1208" y="318" width="2" height="2"/><rect x="1211" y="331" width="2" height="2"/><rect x="1213" y="308" width="2" height="2"/><rect x="1216" y="261" width="2" height="2"/><rect x="1219" y="319" width="2" height="2"/><rect x="1221" y="327" width="2" height="2"/><rect x="1224" y="277" width="2" height="2"/><rect x="1227" y="293" width="2" height="2"/><rect x="1229" y="292" width="2" height="2"/><rect x="1232" y="290" width="2" height="2"/><rect x="1234" y="279" width="2" height="2"/><rect x="1237" y="323" width="2" height="2"/><rect x="1240" y="347" width="2" height="2"/><rect x="1242" y="269" width="2" height="2"/><rect x="1245" y="293" width="2" height="2"/><rect x="1247" y="290" width="2" height="2"/><rect x="1250" y="302" width="2" height="2"/><rect x="1253" y="287" width="2" height="2"/><rect x="1255" y="303" width="2" height="2"/><rect x="1258" y="289" width="2" height="2"/><rect x="1261" y="277" width="2" height="2"/><rect x="1263" y="277" width="2" height="2"/><rect x="1266" y="321" width="2" height="2"/><rect x="1269" y="302" width="2" height="2"/><rect x="1271" y="293" width="2" height="2"/><rect x="1274" y="287" width="2" height="2"/><rect x="1276" y="303" width="2" height="2"/><rect x="1279" y="281" width="2" height="2"/><rect x="1282" y="269" width="2" height="2"/><rect x="1284" y="281" width="2" height="2"/><rect x="1287" y="306" width="2" height="2"/><rect x="1289" y="297" width="2" height="2"/><rect x="1295" y="308" width="2" height="2"/><rect x="1297" y="311" width="2" height="2"/><rect x="1300" y="306" width="2" height="2"/><rect x="1303" y="306" width="2" height="2"/><rect x="1305" y="308" width="2" height="2"/><rect x="1308" y="306" width="2" height="2"/><rect x="1311" y="323" width="2" height="2"/><rect x="1313" y="319" width="2" height="2"/><rect x="1316" y="297" width="2" height="2"/><rect x="1318" y="306" width="2" height="2"/><rect x="1321" y="279" width="2" height="2"/><rect x="1324" y="281" width="2" height="2"/><rect x="1326" y="293" width="2" height="2"/><rect x="1329" y="285" width="2" height="2"/><rect x="1331" y="297" width="2" height="2"/><rect x="1334" y="281" width="2" height="2"/><rect x="1337" y="282" width="2" height="2"/><rect x="1339" y="282" width="2" height="2"/><rect x="1342" y="287" width="2" height="2"/><rect x="1345" y="311" width="2" height="2"/><rect x="1347" y="302" width="2" height="2"/><rect x="1350" y="276" width="2" height="2"/><rect x="1353" y="287" width="2" height="2"/><rect x="1355" y="297" width="2" height="2"/><rect x="1358" y="295" width="2" height="2"/><rect x="1360" y="277" width="2" height="2"/><rect x="1363" y="274" width="2" height="2"/><rect x="1366" y="297" width="2" height="2"/><rect x="1368" y="285" width="2" height="2"/><rect x="1371" y="292" width="2" height="2"/><rect x="1373" y="305" width="2" height="2"/><rect x="1376" y="318" width="2" height="2"/><rect x="1379" y="290" width="2" height="2"/><rect x="1381" y="290" width="2" height="2"/><rect x="1384" y="290" width="2" height="2"/><rect x="1387" y="284" width="2" height="2"/><rect x="1389" y="284" width="2" height="2"/><rect x="1392" y="284" width="2" height="2"/><rect x="1395" y="297" width="2" height="2"/><rect x="1397" y="297" width="2" height="2"/><rect x="1400" y="297" width="2" height="2"/><rect x="1402" y="268" width="2" height="2"/><rect x="1405" y="273" width="2" height="2"/><rect x="1408" y="281" width="2" height="2"/><rect x="1410" y="273" width="2" height="2"/><rect x="1413" y="287" width="2" height="2"/><rect x="1415" y="284" width="2" height="2"/><rect x="1418" y="273" width="2" height="2"/><rect x="1421" y="284" width="2" height="2"/><rect x="1423" y="284" width="2" height="2"/><rect x="1426" y="289" width="2" height="2"/><rect x="1429" y="284" width="2" height="2"/><rect x="1431" y="281" width="2" height="2"/><rect x="1434" y="279" width="2" height="2"/><rect x="1437" y="277" width="2" height="2"/><rect x="1439" y="281" width="2" height="2"/><rect x="1442" y="281" width="2" height="2"/><rect x="1444" y="271" width="2" height="2"/></g><g fill="#000" shape-rendering="crispEdges"><rect x="696" y="416" width="2" height="2"/><rect x="699" y="416" width="2" height="2"/><rect x="702" y="416" width="2" height="2"/><rect x="705" y="416" width="2" height="2"/><rect x="708" y="416" width="2" height="2"/><rect x="711" y="416" width="2" height="2"/><rect x="714" y="416" width="2" height="2"/><rect x="717" y="416" width="2" height="2"/><rect x="720" y="416" width="2" height="2"/></g><path d="M188.4,486.1 L193.1,486.1 L195.8,489.0 L201.9,495.4 L205.9,497.8 L212.0,498.2 L213.4,498.9 L220.1,499.2 L222.2,499.9 L225.5,499.9 L226.9,498.9 L239.1,498.9 L243.1,500.1 L247.2,502.6 L251.9,502.6 L253.9,500.5 L258.6,505.5 L262.7,505.3 L267.4,504.6 L270.8,503.0 L276.9,502.2 L281.6,508.6 L289.7,508.9 L293.1,510.7 L298.5,510.0 L303.9,511.1 L306.6,512.7 L312.0,512.0 L316.1,514.7 L320.1,514.7 L322.8,512.7 L326.2,514.7 L329.6,514.0 L332.3,518.8 L337.7,518.8 L341.8,516.1 L346.5,516.1 L347.8,517.8 L351.9,517.8 L353.2,515.7 L356.6,516.1 L359.3,521.5 L363.4,522.2 L366.1,523.9 L368.8,521.5 L374.2,520.1 L380.3,521.5 L382.3,523.8 L385.0,523.8 L387.0,523.0 L389.7,525.0 L395.8,525.0 L397.2,523.9 L399.2,525.0 L409.3,525.0 L410.7,523.9 L412.0,525.0 L429.6,525.0 L431.6,525.9 L435.0,526.2 L437.0,528.0 L440.4,528.0 L442.4,526.9 L445.1,527.6 L448.5,527.6 L451.2,525.9 L453.2,526.2 L456.6,528.9 L460.0,530.9 L464.7,530.9 L467.4,528.9 L482.3,528.9 L484.3,530.7 L489.7,530.9 L491.8,531.8 L497.2,532.0 L501.2,534.7 L507.3,534.7 L510.7,532.7 L520.1,531.6 L521.5,529.6 L525.5,527.3 L528.9,527.7 L533.0,528.0 L535.7,524.9 L540.4,524.6 L543.8,521.9 L551.2,521.9 L552.6,520.8 L556.6,520.5 L560.0,518.9 L565.4,518.2 L569.5,519.2 L575.5,519.2 L578.9,516.5 L585.0,515.8 L591.5,511.4 L598.0,509.2 L608.8,502.7 L617.4,499.9 L627.2,497.3 L636.9,489.1 L642.3,480.4 L652.0,473.5 L659.6,467.5 L673.6,460.5 L680.1,457.3 L685.5,449.7 L697.4,438.3 L703.4,436.3 L710.8,425.1 L717.5,423.3 L719.7,419.2 L725.7,396.1 L730.1,388.7 L735.3,382.8 L737.6,379.0 L741.3,377.3 L745.0,375.3 L750.9,370.1 L754.6,369.8 L756.1,370.9 L760.6,370.9 L764.3,367.9 L767.3,367.9 L774.0,365.7 L777.7,363.9 L782.9,363.4 L790.8,357.3 L796.2,357.3 L800.3,359.3 L807.0,356.0 L812.4,356.6 L820.5,354.6 L825.9,351.9 L831.4,350.5 L836.8,345.1 L844.9,341.8 L855.7,341.1 L862.4,343.8 L865.8,341.8 L874.6,342.4 L884.1,344.5 L888.1,346.5 L896.2,347.8 L903.0,345.8 L907.0,349.2 L915.1,351.2 L920.5,354.6 L924.6,351.9 L932.7,353.2 L940.0,353.2 L948.2,354.2 L956.3,362.9 L966.0,370.4 L970.9,369.4 L977.4,364.5 L988.8,362.0 L993.6,363.9 L1006.6,375.9 L1016.4,375.9 L1022.9,373.3 L1029.4,374.3 L1034.2,379.2 L1039.5,384.3 L1052.8,384.3 L1060.3,386.7 L1073.7,385.8 L1082.6,386.7 L1097.5,391.2 L1121.2,393.2 L1130.2,393.5 L1133.1,394.7 L1177.8,394.7 L1182.2,393.2 L1200.3,391.8 L1249.5,391.8 L1263.5,392.8 L1270.5,391.8 L1385.0,392.8 L1392.0,392.8 L1396.0,394.6 L1400.0,393.0 L1404.0,394.6 L1408.0,392.8 L1446.0,392.8" fill="none" stroke="#FF0000" stroke-width="2" stroke-linejoin="round" stroke-linecap="square" shape-rendering="crispEdges" /><path d="M188.1,134.4 L190.9,128.9 L192.5,134.9 L201.3,134.9 L203.7,128.9 L206.8,127.4 L209.1,120.1 L230.1,120.1 L233.2,112.6 L251.1,112.6 L253.9,107.2 L255.7,112.6 L269.7,112.6 L272.1,105.9 L277.5,105.9 L280.6,112.6 L282.6,112.6 L286.0,105.9 L319.5,105.9 L321.8,99.7 L323.7,105.9 L340.4,105.9 L342.8,99.7 L345.1,105.9 L350.5,105.9 L352.9,99.7 L355.2,105.9 L366.1,105.9 L369.2,98.9 L393.3,98.9 L395.6,91.9 L419.0,92.0 L422.0,98.6 L425.0,92.0 L521.0,92.0 L524.0,85.0 L527.0,92.0 L590.0,92.0 L592.0,85.0 L595.0,92.0 L616.0,92.0 L618.0,98.6 L634.0,98.6 L637.0,105.6 L641.0,105.6 L642.0,113.0 L650.0,113.0 L653.0,120.0 L658.0,120.0 L661.0,127.4 L665.0,135.0 L672.0,135.0 L675.0,142.0 L679.0,142.0 L683.0,135.0 L687.0,142.0 L690.0,140.8 L694.0,148.9 L700.8,150.3 L702.2,163.8 L706.2,165.1 L708.9,173.2 L710.3,185.4 L718.4,185.4 L721.1,178.6 L723.8,194.9 L725.1,235.4 L730.5,248.9 L733.2,257.0 L737.3,258.4 L738.6,273.2 L741.4,280.0 L746.8,274.6 L752.2,292.2 L754.9,286.8 L757.6,300.3 L763.0,281.4 L767.0,298.9 L775.1,308.4 L780.0,303.2 L784.1,308.6 L786.8,308.6 L789.5,303.0 L792.2,324.2 L794.9,315.4 L805.0,315.4 L808.4,323.5 L812.4,315.4 L815.1,323.5 L817.8,323.5 L821.2,316.8 L825.9,328.9 L831.4,337.7 L834.1,324.9 L839.5,337.7 L842.2,351.9 L846.9,331.6 L850.3,351.9 L855.7,338.4 L863.1,337.7 L866.5,330.9 L868.5,330.9 L869.9,344.5 L873.2,345.1 L875.9,338.4 L878.0,316.8 L880.7,330.3 L884.7,323.5 L892.2,323.5 L894.9,316.1 L899.6,315.4 L902.3,295.1 L907.0,309.3 L910.4,295.1 L912.4,301.9 L918.5,273.5 L919.9,287.0 L923.2,266.8 L926.6,272.8 L932.7,266.1 L936.8,265.4 L940.0,260.0 L944.9,252.5 L948.2,247.7 L956.3,224.9 L964.4,195.7 L969.3,177.9 L974.2,173.0 L977.4,192.5 L992.0,192.5 L996.9,182.7 L1001.4,165.0 L1003.8,156.9 L1007.0,150.4 L1010.3,149.6 L1012.7,141.5 L1015.1,135.8 L1017.6,135.0 L1020.0,128.5 L1022.4,135.0 L1024.9,128.5 L1028.1,135.0 L1031.4,128.5 L1033.0,135.0 L1037.0,128.0 L1041.9,127.7 L1045.5,119.9 L1049.2,127.7 L1065.4,127.7 L1067.8,118.8 L1071.1,113.1 L1107.6,113.1 L1110.0,105.8 L1125.4,105.8 L1128.6,99.0 L1146.5,99.0 L1149.7,92.0 L1167.6,92.0 L1170.8,84.0 L1259.5,84.0 L1261.8,78.0 L1263.7,84.0 L1296.0,84.0 L1298.1,77.0 L1411.3,77.0 L1414.1,70.0 L1438.8,70.0 L1440.2,77.0 L1443.7,77.0 L1445.1,70.3" fill="none" stroke="#0000FF" stroke-width="2" stroke-linejoin="round" stroke-linecap="square" shape-rendering="crispEdges" /><rect x="533" y="624" width="3" height="13" fill="#000"/><rect x="556" y="624" width="2" height="13" fill="#FFFF00"/><rect x="1249" y="624" width="2" height="13" fill="#FFFF00"/></g><g font-family="Liberation Sans, sans-serif"><text x="11" y="658" font-size="12" fill="#000">13:11</text><path d="M43,651h4v1h2v2h1v3h-10v-3h1v-2h2z" fill="#FFFF00" shape-rendering="crispEdges"/><text x="524" y="658" font-size="12" fill="#000">0</text><text x="540" y="658" font-size="12" fill="#000">01</text><circle cx="534.2" cy="653.4" r="4.8" fill="#fff" stroke="#000" stroke-width="1.3"/><g stroke="#FFFF99" stroke-width="1"><line x1="551" y1="654" x2="563" y2="654"/><line x1="557" y1="648" x2="557" y2="660"/><line x1="552.5" y1="649.5" x2="561.5" y2="658.5"/><line x1="561.5" y1="649.5" x2="552.5" y2="658.5"/></g><circle cx="557" cy="653.8" r="3.2" fill="#FFFF00"/><text x="1217" y="658" font-size="12" fill="#000">20:13</text><rect x="1247.5" y="651.5" width="5" height="5" rx="1" fill="none" stroke="#FFFF66" stroke-width="1"/></g><g shape-rendering="crispEdges"><rect x="40" y="48" width="1" height="581" fill="#808080"/><rect x="36" y="48" width="9" height="1" fill="#808080"/><rect x="36" y="628" width="9" height="1" fill="#808080"/><rect x="36" y="120" width="4" height="1" fill="#808080"/><rect x="36" y="193" width="4" height="1" fill="#808080"/><rect x="36" y="265" width="4" height="1" fill="#808080"/><rect x="36" y="338" width="4" height="1" fill="#808080"/><rect x="36" y="410" width="4" height="1" fill="#808080"/><rect x="36" y="483" width="4" height="1" fill="#808080"/><rect x="36" y="555" width="4" height="1" fill="#808080"/><rect x="77" y="48" width="1" height="581" fill="#808080"/><rect x="73" y="48" width="9" height="1" fill="#808080"/><rect x="73" y="628" width="9" height="1" fill="#808080"/><rect x="73" y="120" width="4" height="1" fill="#808080"/><rect x="73" y="193" width="4" height="1" fill="#808080"/><rect x="73" y="265" width="4" height="1" fill="#808080"/><rect x="73" y="338" width="4" height="1" fill="#808080"/><rect x="73" y="410" width="4" height="1" fill="#808080"/><rect x="73" y="483" width="4" height="1" fill="#808080"/><rect x="73" y="555" width="4" height="1" fill="#808080"/><rect x="114" y="48" width="1" height="581" fill="#808080"/><rect x="110" y="48" width="9" height="1" fill="#808080"/><rect x="110" y="628" width="9" height="1" fill="#808080"/><rect x="110" y="96" width="4" height="1" fill="#808080"/><rect x="110" y="144" width="4" height="1" fill="#808080"/><rect x="110" y="193" width="4" height="1" fill="#808080"/><rect x="110" y="241" width="4" height="1" fill="#808080"/><rect x="110" y="289" width="4" height="1" fill="#808080"/><rect x="110" y="338" width="4" height="1" fill="#808080"/><rect x="110" y="386" width="4" height="1" fill="#808080"/><rect x="110" y="434" width="4" height="1" fill="#808080"/><rect x="110" y="483" width="4" height="1" fill="#808080"/><rect x="110" y="531" width="4" height="1" fill="#808080"/><rect x="110" y="579" width="4" height="1" fill="#808080"/><rect x="151" y="48" width="1" height="581" fill="#808080"/><rect x="147" y="48" width="9" height="1" fill="#808080"/><rect x="147" y="628" width="9" height="1" fill="#808080"/><rect x="147" y="144" width="4" height="1" fill="#808080"/><rect x="147" y="241" width="4" height="1" fill="#808080"/><rect x="147" y="338" width="4" height="1" fill="#808080"/><rect x="147" y="434" width="4" height="1" fill="#808080"/><rect x="147" y="531" width="4" height="1" fill="#808080"/><rect x="184" y="48" width="4" height="1" fill="#808080"/><rect x="184" y="120" width="4" height="1" fill="#808080"/><rect x="184" y="193" width="4" height="1" fill="#808080"/><rect x="184" y="265" width="4" height="1" fill="#808080"/><rect x="184" y="338" width="4" height="1" fill="#808080"/><rect x="184" y="410" width="4" height="1" fill="#808080"/><rect x="184" y="483" width="4" height="1" fill="#808080"/><rect x="184" y="555" width="4" height="1" fill="#808080"/><rect x="184" y="628" width="4" height="1" fill="#808080"/><rect x="1449" y="48" width="4" height="1" fill="#808080"/><rect x="1449" y="120" width="4" height="1" fill="#808080"/><rect x="1449" y="193" width="4" height="1" fill="#808080"/><rect x="1449" y="265" width="4" height="1" fill="#808080"/><rect x="1449" y="338" width="4" height="1" fill="#808080"/><rect x="1449" y="410" width="4" height="1" fill="#808080"/><rect x="1449" y="483" width="4" height="1" fill="#808080"/><rect x="1449" y="555" width="4" height="1" fill="#808080"/><rect x="1449" y="628" width="4" height="1" fill="#808080"/><rect x="1485" y="48" width="1" height="581" fill="#808080"/><rect x="1481" y="48" width="9" height="1" fill="#808080"/><rect x="1481" y="628" width="9" height="1" fill="#808080"/><rect x="1486" y="120" width="4" height="1" fill="#808080"/><rect x="1486" y="193" width="4" height="1" fill="#808080"/><rect x="1486" y="265" width="4" height="1" fill="#808080"/><rect x="1486" y="338" width="4" height="1" fill="#808080"/><rect x="1486" y="410" width="4" height="1" fill="#808080"/><rect x="1486" y="483" width="4" height="1" fill="#808080"/><rect x="1486" y="555" width="4" height="1" fill="#808080"/><rect x="1522" y="48" width="1" height="581" fill="#808080"/><rect x="1518" y="48" width="9" height="1" fill="#808080"/><rect x="1518" y="628" width="9" height="1" fill="#808080"/><rect x="1523" y="120" width="4" height="1" fill="#808080"/><rect x="1523" y="193" width="4" height="1" fill="#808080"/><rect x="1523" y="265" width="4" height="1" fill="#808080"/><rect x="1523" y="338" width="4" height="1" fill="#808080"/><rect x="1523" y="410" width="4" height="1" fill="#808080"/><rect x="1523" y="483" width="4" height="1" fill="#808080"/><rect x="1523" y="555" width="4" height="1" fill="#808080"/><rect x="1559" y="48" width="1" height="581" fill="#808080"/><rect x="1555" y="48" width="9" height="1" fill="#808080"/><rect x="1555" y="628" width="9" height="1" fill="#808080"/><rect x="1560" y="120" width="4" height="1" fill="#808080"/><rect x="1560" y="193" width="4" height="1" fill="#808080"/><rect x="1560" y="265" width="4" height="1" fill="#808080"/><rect x="1560" y="338" width="4" height="1" fill="#808080"/><rect x="1560" y="410" width="4" height="1" fill="#808080"/><rect x="1560" y="483" width="4" height="1" fill="#808080"/><rect x="1560" y="555" width="4" height="1" fill="#808080"/><rect x="187" y="47" width="1262" height="2" fill="#808080"/><rect x="187" y="47" width="2" height="582" fill="#808080"/><rect x="188" y="628" width="1" height="5" fill="#808080"/><rect x="1447" y="47" width="2" height="586" fill="#808080"/><rect x="1445" y="48" width="1" height="580" fill="#808080"/><rect x="187" y="628" width="1262" height="1" fill="#808080"/><rect x="240" y="629" width="1" height="4" fill="#808080"/><rect x="293" y="629" width="1" height="4" fill="#808080"/><rect x="346" y="629" width="1" height="4" fill="#808080"/><rect x="398" y="629" width="1" height="4" fill="#808080"/><rect x="450" y="629" width="1" height="4" fill="#808080"/><rect x="503" y="629" width="1" height="4" fill="#808080"/><rect x="556" y="629" width="1" height="4" fill="#808080"/><rect x="608" y="629" width="1" height="4" fill="#808080"/><rect x="660" y="629" width="1" height="4" fill="#808080"/><rect x="713" y="629" width="1" height="4" fill="#808080"/><rect x="766" y="629" width="1" height="4" fill="#808080"/><rect x="818" y="629" width="1" height="4" fill="#808080"/><rect x="870" y="629" width="1" height="4" fill="#808080"/><rect x="923" y="629" width="1" height="4" fill="#808080"/><rect x="976" y="629" width="1" height="4" fill="#808080"/><rect x="1028" y="629" width="1" height="4" fill="#808080"/><rect x="1080" y="629" width="1" height="4" fill="#808080"/><rect x="1133" y="629" width="1" height="4" fill="#808080"/><rect x="1186" y="629" width="1" height="4" fill="#808080"/><rect x="1238" y="629" width="1" height="4" fill="#808080"/><rect x="1290" y="629" width="1" height="4" fill="#808080"/><rect x="1343" y="629" width="1" height="4" fill="#808080"/><rect x="1396" y="629" width="1" height="4" fill="#808080"/></g><rect x="198.5" y="33.5" width="9" height="9" fill="#FF0000" stroke="#000" stroke-width="1"/><rect x="293.5" y="33.5" width="9" height="9" fill="#0000FF" stroke="#000" stroke-width="1"/><rect x="388.5" y="33.5" width="9" height="9" fill="#00A000" stroke="#000" stroke-width="1"/><rect x="483.5" y="33.5" width="9" height="9" fill="#0099FF" stroke="#000" stroke-width="1"/><rect x="578.5" y="33.5" width="9" height="9" fill="#000000" stroke="#000" stroke-width="1"/><rect x="673.5" y="33.5" width="9" height="9" fill="#000000" stroke="#000" stroke-width="1"/><rect x="768.5" y="33.5" width="9" height="9" fill="#FFC000" stroke="#000" stroke-width="1"/><rect x="863.5" y="33.5" width="9" height="9" fill="#800080" stroke="#000" stroke-width="1"/><rect x="958.5" y="33.5" width="9" height="9" fill="#FF0080" stroke="#000" stroke-width="1"/><rect x="1053.5" y="33.5" width="9" height="9" fill="#FF8000" stroke="#000" stroke-width="1"/><rect x="1148.5" y="33.5" width="9" height="9" fill="#FF5000" stroke="#000" stroke-width="1"/><rect x="1243.5" y="33.5" width="9" height="9" fill="#804000" stroke="#000" stroke-width="1"/><path d="M1338.5,42 V33.5 H1347.5 V42.5 H1344" fill="none" stroke="#FF0000" stroke-width="1" shape-rendering="crispEdges"/><g><text x="34" y="52.5" fill="#FF0000" text-anchor="end" font-size="12" font-weight="normal" >30.0</text><text x="34" y="124.5" fill="#FF0000" text-anchor="end" font-size="12" font-weight="normal" >25.0</text><text x="34" y="197.5" fill="#FF0000" text-anchor="end" font-size="12" font-weight="normal" >20.0</text><text x="34" y="269.5" fill="#FF0000" text-anchor="end" font-size="12" font-weight="normal" >15.0</text><text x="34" y="342.5" fill="#FF0000" text-anchor="end" font-size="12" font-weight="normal" >10.0</text><text x="34" y="414.5" fill="#FF0000" text-anchor="end" font-size="12" font-weight="normal" >5.0</text><text x="34" y="487.5" fill="#FF0000" text-anchor="end" font-size="12" font-weight="normal" >0.0</text><text x="34" y="559.5" fill="#FF0000" text-anchor="end" font-size="12" font-weight="normal" >-5.0</text><text x="34" y="632.5" fill="#FF0000" text-anchor="end" font-size="12" font-weight="normal" >-10.0</text><text x="30" y="37" fill="#FF0000" text-anchor="end" font-size="12" font-weight="normal" >°C</text><text x="71" y="52.5" fill="#00A000" text-anchor="end" font-size="12" font-weight="normal" >1050</text><text x="71" y="124.5" fill="#00A000" text-anchor="end" font-size="12" font-weight="normal" >1040</text><text x="71" y="197.5" fill="#00A000" text-anchor="end" font-size="12" font-weight="normal" >1030</text><text x="71" y="269.5" fill="#00A000" text-anchor="end" font-size="12" font-weight="normal" >1020</text><text x="71" y="342.5" fill="#00A000" text-anchor="end" font-size="12" font-weight="normal" >1010</text><text x="71" y="414.5" fill="#00A000" text-anchor="end" font-size="12" font-weight="normal" >1000</text><text x="71" y="487.5" fill="#00A000" text-anchor="end" font-size="12" font-weight="normal" >990</text><text x="71" y="559.5" fill="#00A000" text-anchor="end" font-size="12" font-weight="normal" >980</text><text x="71" y="632.5" fill="#00A000" text-anchor="end" font-size="12" font-weight="normal" >970</text><text x="67" y="37" fill="#00A000" text-anchor="end" font-size="12" font-weight="normal" >hPa</text><text x="108" y="52.5" fill="#000000" text-anchor="end" font-size="12" font-weight="normal" >120.0</text><text x="108" y="100.5" fill="#000000" text-anchor="end" font-size="12" font-weight="normal" >110.0</text><text x="108" y="148.5" fill="#000000" text-anchor="end" font-size="12" font-weight="normal" >100.0</text><text x="108" y="197.5" fill="#000000" text-anchor="end" font-size="12" font-weight="normal" >90.0</text><text x="108" y="245.5" fill="#000000" text-anchor="end" font-size="12" font-weight="normal" >80.0</text><text x="108" y="293.5" fill="#000000" text-anchor="end" font-size="12" font-weight="normal" >70.0</text><text x="108" y="342.5" fill="#000000" text-anchor="end" font-size="12" font-weight="normal" >60.0</text><text x="108" y="390.5" fill="#000000" text-anchor="end" font-size="12" font-weight="normal" >50.0</text><text x="108" y="438.5" fill="#000000" text-anchor="end" font-size="12" font-weight="normal" >40.0</text><text x="108" y="487.5" fill="#000000" text-anchor="end" font-size="12" font-weight="normal" >30.0</text><text x="108" y="535.5" fill="#000000" text-anchor="end" font-size="12" font-weight="normal" >20.0</text><text x="108" y="583.5" fill="#000000" text-anchor="end" font-size="12" font-weight="normal" >10.0</text><text x="108" y="632.5" fill="#000000" text-anchor="end" font-size="12" font-weight="normal" >0.0</text><text x="104" y="37" fill="#000000" text-anchor="end" font-size="12" font-weight="normal" >km/h</text><text x="145" y="52.5" fill="#FFC000" text-anchor="end" font-size="12" font-weight="normal" >30</text><text x="145" y="148.5" fill="#FFC000" text-anchor="end" font-size="12" font-weight="normal" >25</text><text x="145" y="245.5" fill="#FFC000" text-anchor="end" font-size="12" font-weight="normal" >20</text><text x="145" y="342.5" fill="#FFC000" text-anchor="end" font-size="12" font-weight="normal" >15</text><text x="145" y="438.5" fill="#FFC000" text-anchor="end" font-size="12" font-weight="normal" >10</text><text x="145" y="535.5" fill="#FFC000" text-anchor="end" font-size="12" font-weight="normal" >5</text><text x="145" y="632.5" fill="#FFC000" text-anchor="end" font-size="12" font-weight="normal" >0</text><text x="141" y="37" fill="#FFC000" text-anchor="end" font-size="12" font-weight="normal" >min</text><text x="182" y="52.5" fill="#FF8000" text-anchor="end" font-size="12" font-weight="normal" >1200</text><text x="182" y="124.5" fill="#FF8000" text-anchor="end" font-size="12" font-weight="normal" >1050</text><text x="182" y="197.5" fill="#FF8000" text-anchor="end" font-size="12" font-weight="normal" >900</text><text x="182" y="269.5" fill="#FF8000" text-anchor="end" font-size="12" font-weight="normal" >750</text><text x="182" y="342.5" fill="#FF8000" text-anchor="end" font-size="12" font-weight="normal" >600</text><text x="182" y="414.5" fill="#FF8000" text-anchor="end" font-size="12" font-weight="normal" >450</text><text x="182" y="487.5" fill="#FF8000" text-anchor="end" font-size="12" font-weight="normal" >300</text><text x="182" y="559.5" fill="#FF8000" text-anchor="end" font-size="12" font-weight="normal" >150</text><text x="182" y="632.5" fill="#FF8000" text-anchor="end" font-size="12" font-weight="normal" >0</text><text x="178" y="37" fill="#FF8000" text-anchor="end" font-size="12" font-weight="normal" >W/m²</text><text x="1454" y="52.5" fill="#0000FF" text-anchor="start" font-size="12" font-weight="normal" >100</text><text x="1454" y="124.5" fill="#0000FF" text-anchor="start" font-size="12" font-weight="normal" >90</text><text x="1454" y="197.5" fill="#0000FF" text-anchor="start" font-size="12" font-weight="normal" >80</text><text x="1454" y="269.5" fill="#0000FF" text-anchor="start" font-size="12" font-weight="normal" >70</text><text x="1454" y="342.5" fill="#0000FF" text-anchor="start" font-size="12" font-weight="normal" >60</text><text x="1454" y="414.5" fill="#0000FF" text-anchor="start" font-size="12" font-weight="normal" >50</text><text x="1454" y="487.5" fill="#0000FF" text-anchor="start" font-size="12" font-weight="normal" >40</text><text x="1454" y="559.5" fill="#0000FF" text-anchor="start" font-size="12" font-weight="normal" >30</text><text x="1454" y="632.5" fill="#0000FF" text-anchor="start" font-size="12" font-weight="normal" >20</text><text x="1448" y="37" fill="#0000FF" text-anchor="start" font-size="12" font-weight="normal" >%</text><text x="1491" y="52.5" fill="#0099FF" text-anchor="start" font-size="12" font-weight="normal" >16.0</text><text x="1491" y="124.5" fill="#0099FF" text-anchor="start" font-size="12" font-weight="normal" >14.0</text><text x="1491" y="197.5" fill="#0099FF" text-anchor="start" font-size="12" font-weight="normal" >12.0</text><text x="1491" y="269.5" fill="#0099FF" text-anchor="start" font-size="12" font-weight="normal" >10.0</text><text x="1491" y="342.5" fill="#0099FF" text-anchor="start" font-size="12" font-weight="normal" >8.0</text><text x="1491" y="414.5" fill="#0099FF" text-anchor="start" font-size="12" font-weight="normal" >6.0</text><text x="1491" y="487.5" fill="#0099FF" text-anchor="start" font-size="12" font-weight="normal" >4.0</text><text x="1491" y="559.5" fill="#0099FF" text-anchor="start" font-size="12" font-weight="normal" >2.0</text><text x="1491" y="632.5" fill="#0099FF" text-anchor="start" font-size="12" font-weight="normal" >0.0</text><text x="1485" y="37" fill="#0099FF" text-anchor="start" font-size="12" font-weight="normal" >l/m²</text><text x="1528" y="52.5" fill="#000000" text-anchor="start" font-size="12" font-weight="normal" >360</text><text x="1550" y="52.5" fill="#000" text-anchor="start" font-size="12" font-weight="normal" >N</text><text x="1528" y="124.5" fill="#000000" text-anchor="start" font-size="12" font-weight="normal" >315</text><text x="1528" y="197.5" fill="#000000" text-anchor="start" font-size="12" font-weight="normal" >270</text><text x="1550" y="197.5" fill="#000" text-anchor="start" font-size="12" font-weight="normal" >W</text><text x="1528" y="269.5" fill="#000000" text-anchor="start" font-size="12" font-weight="normal" >225</text><text x="1528" y="342.5" fill="#000000" text-anchor="start" font-size="12" font-weight="normal" >180</text><text x="1550" y="342.5" fill="#000" text-anchor="start" font-size="12" font-weight="normal" >S</text><text x="1528" y="414.5" fill="#000000" text-anchor="start" font-size="12" font-weight="normal" >135</text><text x="1528" y="487.5" fill="#000000" text-anchor="start" font-size="12" font-weight="normal" >90</text><text x="1550" y="487.5" fill="#000" text-anchor="start" font-size="12" font-weight="normal" >O</text><text x="1528" y="559.5" fill="#000000" text-anchor="start" font-size="12" font-weight="normal" >45</text><text x="1528" y="632.5" fill="#000000" text-anchor="start" font-size="12" font-weight="normal" >0</text><text x="1550" y="632.5" fill="#000" text-anchor="start" font-size="12" font-weight="normal" >N</text><text x="1522" y="37" fill="#000000" text-anchor="start" font-size="12" font-weight="normal" >°</text><text x="1565" y="52.5" fill="#FF0080" text-anchor="start" font-size="12" font-weight="normal" >16.0</text><text x="1565" y="124.5" fill="#FF0080" text-anchor="start" font-size="12" font-weight="normal" >14.0</text><text x="1565" y="197.5" fill="#FF0080" text-anchor="start" font-size="12" font-weight="normal" >12.0</text><text x="1565" y="269.5" fill="#FF0080" text-anchor="start" font-size="12" font-weight="normal" >10.0</text><text x="1565" y="342.5" fill="#FF0080" text-anchor="start" font-size="12" font-weight="normal" >8.0</text><text x="1565" y="414.5" fill="#FF0080" text-anchor="start" font-size="12" font-weight="normal" >6.0</text><text x="1565" y="487.5" fill="#FF0080" text-anchor="start" font-size="12" font-weight="normal" >4.0</text><text x="1565" y="559.5" fill="#FF0080" text-anchor="start" font-size="12" font-weight="normal" >2.0</text><text x="1565" y="632.5" fill="#FF0080" text-anchor="start" font-size="12" font-weight="normal" >0.0</text><text x="1559" y="37" fill="#FF0080" text-anchor="start" font-size="12" font-weight="normal" >UV-I</text><text x="188.5" y="647" fill="#000" text-anchor="middle" font-size="12" font-weight="normal" >00:00</text><text x="240.5" y="647" fill="#000" text-anchor="middle" font-size="12" font-weight="normal" >01:00</text><text x="293.5" y="647" fill="#000" text-anchor="middle" font-size="12" font-weight="normal" >02:00</text><text x="346.5" y="647" fill="#000" text-anchor="middle" font-size="12" font-weight="normal" >03:00</text><text x="398.5" y="647" fill="#000" text-anchor="middle" font-size="12" font-weight="normal" >04:00</text><text x="450.5" y="647" fill="#000" text-anchor="middle" font-size="12" font-weight="normal" >05:00</text><text x="503.5" y="647" fill="#000" text-anchor="middle" font-size="12" font-weight="normal" >06:00</text><text x="556.5" y="647" fill="#000" text-anchor="middle" font-size="12" font-weight="normal" >07:00</text><text x="608.5" y="647" fill="#000" text-anchor="middle" font-size="12" font-weight="normal" >08:00</text><text x="660.5" y="647" fill="#000" text-anchor="middle" font-size="12" font-weight="normal" >09:00</text><text x="713.5" y="647" fill="#000" text-anchor="middle" font-size="12" font-weight="normal" >10:00</text><text x="766.5" y="647" fill="#000" text-anchor="middle" font-size="12" font-weight="normal" >11:00</text><text x="818.5" y="647" fill="#000" text-anchor="middle" font-size="12" font-weight="normal" >12:00</text><text x="870.5" y="647" fill="#000" text-anchor="middle" font-size="12" font-weight="normal" >13:00</text><text x="923.5" y="647" fill="#000" text-anchor="middle" font-size="12" font-weight="normal" >14:00</text><text x="976.5" y="647" fill="#000" text-anchor="middle" font-size="12" font-weight="normal" >15:00</text><text x="1028.5" y="647" fill="#000" text-anchor="middle" font-size="12" font-weight="normal" >16:00</text><text x="1080.5" y="647" fill="#000" text-anchor="middle" font-size="12" font-weight="normal" >17:00</text><text x="1133.5" y="647" fill="#000" text-anchor="middle" font-size="12" font-weight="normal" >18:00</text><text x="1186.5" y="647" fill="#000" text-anchor="middle" font-size="12" font-weight="normal" >19:00</text><text x="1238.5" y="647" fill="#000" text-anchor="middle" font-size="12" font-weight="normal" >20:00</text><text x="1290.5" y="647" fill="#000" text-anchor="middle" font-size="12" font-weight="normal" >21:00</text><text x="1343.5" y="647" fill="#000" text-anchor="middle" font-size="12" font-weight="normal" >22:00</text><text x="1396.5" y="647" fill="#000" text-anchor="middle" font-size="12" font-weight="normal" >23:00</text><text x="1448.5" y="647" fill="#000" text-anchor="middle" font-size="12" font-weight="normal" >24:00</text><text x="213" y="42" fill="#FF0000" text-anchor="start" font-size="12" font-weight="normal" >Temp. A.</text><text x="308" y="42" fill="#0000FF" text-anchor="start" font-size="12" font-weight="normal" >Feuchte A.</text><text x="403" y="42" fill="#00A000" text-anchor="start" font-size="12" font-weight="normal" >Luftdruck</text><text x="498" y="42" fill="#0099FF" text-anchor="start" font-size="12" font-weight="normal" >Regen</text><text x="593" y="42" fill="#000000" text-anchor="start" font-size="12" font-weight="normal" >Wind</text><text x="688" y="42" fill="#000000" text-anchor="start" font-size="12" font-weight="normal" >Richtung</text><text x="783" y="42" fill="#FFC000" text-anchor="start" font-size="12" font-weight="normal" >Sonnenschein</text><text x="878" y="42" fill="#0099FF" text-anchor="start" font-size="12" font-weight="normal" >ET</text><text x="973" y="42" fill="#FF0080" text-anchor="start" font-size="12" font-weight="normal" >UV</text><text x="1068" y="42" fill="#FF8000" text-anchor="start" font-size="12" font-weight="normal" >Solar</text><text x="1163" y="42" fill="#FF0000" text-anchor="start" font-size="12" font-weight="normal" >Taupunkt</text><text x="1258" y="42" fill="#000000" text-anchor="start" font-size="12" font-weight="normal" >Windböen</text><text x="1353" y="42" fill="#FF0000" text-anchor="start" font-size="12" font-weight="normal" >8.3 Monat-Ø</text><text x="802" y="21" fill="#000" text-anchor="middle" font-size="16" font-weight="normal" class="t">Donnerstag, 06.04.2023</text></g><rect x="0" y="668" width="1600" height="72" fill="#C0FFFF"/><g shape-rendering="crispEdges"><rect x="87" y="668" width="1" height="72" fill="#FFFFFF"/><rect x="88" y="668" width="1" height="72" fill="#808080"/><rect x="204" y="668" width="1" height="72" fill="#FFFFFF"/><rect x="205" y="668" width="1" height="72" fill="#808080"/><rect x="322" y="668" width="1" height="72" fill="#FFFFFF"/><rect x="323" y="668" width="1" height="72" fill="#808080"/><rect x="440" y="668" width="1" height="72" fill="#FFFFFF"/><rect x="441" y="668" width="1" height="72" fill="#808080"/><rect x="558" y="668" width="1" height="72" fill="#FFFFFF"/><rect x="559" y="668" width="1" height="72" fill="#808080"/><rect x="676" y="668" width="1" height="72" fill="#FFFFFF"/><rect x="677" y="668" width="1" height="72" fill="#808080"/><rect x="794" y="668" width="1" height="72" fill="#FFFFFF"/><rect x="795" y="668" width="1" height="72" fill="#808080"/><rect x="912" y="668" width="1" height="72" fill="#FFFFFF"/><rect x="913" y="668" width="1" height="72" fill="#808080"/></g><g font-size="12" fill="#000"><text x="9" y="686" text-anchor="start" font-weight="bold" class="b">Sensor</text><text x="9" y="702" text-anchor="start" font-weight="bold" class="b">MinWert</text><text x="9" y="718" text-anchor="start" font-weight="bold" class="b">MaxWert</text><text x="9" y="734" text-anchor="start" font-weight="bold" class="b">Durchschnitt</text><text x="95" y="686" text-anchor="start" font-weight="bold" class="b">Temp. A.</text><text x="199" y="686" text-anchor="end" font-weight="bold" class="b">°C</text><text x="101" y="702" text-anchor="start">06:03</text><text x="199" y="702" text-anchor="end">-3.7</text><text x="101" y="718" text-anchor="start">12:42</text><text x="199" y="718" text-anchor="end">9.9</text><text x="101" y="734" text-anchor="start">( - 4.79 )</text><text x="199" y="734" text-anchor="end">3.51</text><text x="212" y="686" text-anchor="start" font-weight="bold" class="b">Feuchte A.</text><text x="316" y="686" text-anchor="end" font-weight="bold" class="b">%</text><text x="218" y="702" text-anchor="start">12:27</text><text x="316" y="702" text-anchor="end">58</text><text x="218" y="718" text-anchor="start">23:21</text><text x="316" y="718" text-anchor="end">97</text><text x="316" y="734" text-anchor="end">87</text><text x="330" y="686" text-anchor="start" font-weight="bold" class="b">Luftdruck</text><text x="434" y="686" text-anchor="end" font-weight="bold" class="b">hPa</text><text x="336" y="702" text-anchor="start">23:48</text><text x="434" y="702" text-anchor="end">1016.9</text><text x="336" y="718" text-anchor="start">00:00</text><text x="434" y="718" text-anchor="end">1020.0</text><text x="330" y="734" text-anchor="start">^0.6hPa/h</text><text x="434" y="734" text-anchor="end">1018.5</text><text x="448" y="686" text-anchor="start" font-weight="bold" class="b">Regen</text><text x="552" y="686" text-anchor="end" font-weight="bold" class="b">l/m²</text><text x="454" y="718" text-anchor="start">15:33</text><text x="552" y="718" text-anchor="end">0.2</text><text x="448" y="734" text-anchor="start">Gesamt:</text><text x="552" y="734" text-anchor="end">3.2</text><text x="566" y="686" text-anchor="start" font-weight="bold" class="b">Wind</text><text x="670" y="686" text-anchor="end" font-weight="bold" class="b">km/h</text><text x="566" y="702" text-anchor="start">Ø 10 min.</text><text x="670" y="702" text-anchor="end">5.4</text><text x="572" y="718" text-anchor="start">14:33</text><text x="670" y="718" text-anchor="end">W 23.9</text><text x="670" y="734" text-anchor="end">5.5</text><text x="684" y="686" text-anchor="start" font-weight="bold" class="b">Windböen</text><text x="788" y="686" text-anchor="end" font-weight="bold" class="b">km/h</text><text x="684" y="702" text-anchor="start">Ø 10 min.</text><text x="788" y="702" text-anchor="end">8.9</text><text x="690" y="718" text-anchor="start">14:30</text><text x="788" y="718" text-anchor="end">W-SW 33.8</text><text x="788" y="734" text-anchor="end">8.8</text><text x="802" y="686" text-anchor="start" font-weight="bold" class="b">Solar</text><text x="906" y="686" text-anchor="end" font-weight="bold" class="b">W/m²</text><text x="802" y="702" text-anchor="start">Elevation</text><text x="906" y="702" text-anchor="end">-29.538</text><text x="808" y="718" text-anchor="start">10:18</text><text x="906" y="718" text-anchor="end">424</text><text x="802" y="734" text-anchor="start">2:09 h</text><text x="906" y="734" text-anchor="end">94</text><text x="920" y="686" text-anchor="start" font-weight="bold" class="b">UV</text><text x="1020" y="686" text-anchor="end" font-weight="bold" class="b">UV-I</text><text x="926" y="702" text-anchor="start">00:00</text><text x="1022" y="702" text-anchor="end">0.0</text><text x="926" y="718" text-anchor="start">12:27</text><text x="1022" y="718" text-anchor="end">2.2</text><text x="1022" y="734" text-anchor="end">1.2</text></g></svg></body></html>
